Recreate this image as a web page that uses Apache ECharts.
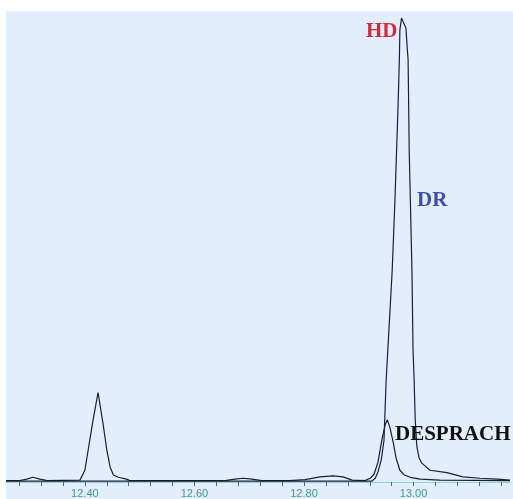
<!DOCTYPE html>
<html>
<head>
<meta charset="utf-8">
<script src="https://cdn.jsdelivr.net/npm/echarts@6/dist/echarts.min.js"></script>
<style>
  html, body { margin: 0; padding: 0; background: #ffffff; }
  #chart { width: 513px; height: 499px; }
</style>
</head>
<body>
<div id="chart"></div>
<script>
// retention time (min) vs. detector response (% of tallest peak)
const despTrace = [
  [12.256, 0.3], [12.281, 0.3], [12.294, 0.6], [12.305, 1.0], [12.318, 0.6], [12.331, 0.3],
  [12.391, 0.4], [12.400, 2.5], [12.406, 6.8], [12.415, 13.2], [12.424, 19.0], [12.433, 12.5],
  [12.440, 6.8], [12.446, 3.2], [12.452, 1.5], [12.461, 1.0], [12.476, 0.6], [12.482, 0.3],
  [12.656, 0.3], [12.674, 0.6], [12.689, 0.8], [12.705, 0.6], [12.723, 0.3],
  [12.774, 0.3], [12.802, 0.5], [12.829, 1.1], [12.853, 1.3], [12.871, 1.1], [12.888, 0.4],
  [12.911, 0.3], [12.921, 0.8], [12.928, 1.7], [12.935, 4.2], [12.942, 8.9], [12.948, 12.1],
  [12.952, 13.2], [12.957, 11.5], [12.963, 8.3], [12.968, 5.1], [12.975, 2.5], [12.983, 1.5],
  [12.994, 1.0], [13.012, 0.6], [13.048, 0.4], [13.176, 0.3]
]

const hdTrace = [
  [12.256, 0.2], [12.924, 0.2], [12.930, 0.8], [12.935, 2.1], [12.941, 4.7], [12.946, 8.9],
  [12.950, 21.7], [12.955, 32.3], [12.961, 45.0], [12.966, 59.9], [12.969, 70.5], [12.972, 81.1],
  [12.974, 89.6], [12.975, 96.0], [12.978, 98.5], [12.981, 97.7], [12.986, 96.4], [12.988, 92.8],
  [12.990, 89.6], [12.992, 70.5], [12.997, 45.0], [12.999, 28.0], [13.001, 21.7], [13.003, 13.2],
  [13.006, 7.5], [13.010, 5.1], [13.015, 4.0], [13.030, 2.5], [13.061, 2.0], [13.090, 1.1],
  [13.121, 0.8], [13.153, 0.6], [13.176, 0.4]
]

const labelTicks = [12.4, 12.6, 12.8, 13.0]
const minorTicks = [12.28, 12.32, 12.36, 12.40, 12.44, 12.48, 12.52, 12.56, 12.60, 12.64, 12.68,
  12.72, 12.76, 12.80, 12.84, 12.88, 12.92, 12.96, 13.00, 13.04, 13.08, 13.12, 13.16]

const chart = echarts.init(document.getElementById('chart'))

const peakText = (text, left, top, color) => ({
  type: 'text',
  left: left,
  top: top,
  z: 10,
  style: {
    text: text,
    fill: color,
    font: 'bold 21px "Liberation Serif", "DejaVu Serif", serif'
  }
})

chart.setOption({
  animation: false,
  backgroundColor: '#ffffff',
  grid: {
    left: 6,
    right: 3,
    top: 11,
    bottom: 17
  },
  xAxis: {
    type: 'value',
    min: 12.256,
    max: 13.176,
    axisLine: {
      show: true,
      lineStyle: { color: '#8fd6cc', width: 1 }
    },
    axisTick: {
      show: true,
      inside: false,
      length: 4,
      customValues: minorTicks,
      lineStyle: { color: '#556670' }
    },
    axisLabel: {
      customValues: labelTicks,
      formatter: (v) => v.toFixed(2),
      color: '#3f9a80',
      fontFamily: 'Liberation Sans, Arial, sans-serif',
      fontSize: 11,
      margin: 6
    },
    splitLine: { show: false }
  },
  yAxis: {
    type: 'value',
    min: 0,
    max: 100,
    show: false,
    splitLine: { show: false }
  },
  graphic: [
    {
      type: 'rect',
      left: 6,
      top: 11,
      z: -10,
      silent: true,
      shape: { width: 507, height: 488 },
      style: { fill: '#e3eefc' }
    },
    peakText('HD', 366, 21, '#d42a3a'),
    peakText('DR', 417, 190, '#3f4fa6'),
    peakText('DESPRACH', 395, 424, '#111111')
  ],
  series: [
    {
      name: 'DESPRACH',
      type: 'line',
      data: despTrace,
      showSymbol: false,
      lineStyle: { color: '#1c1c30', width: 1.2 },
      z: 3
    },
    {
      name: 'HD/DR',
      type: 'line',
      data: hdTrace,
      showSymbol: false,
      lineStyle: { color: '#1c1c40', width: 1.2 },
      z: 2
    }
  ]
})
</script>
</body>
</html>
